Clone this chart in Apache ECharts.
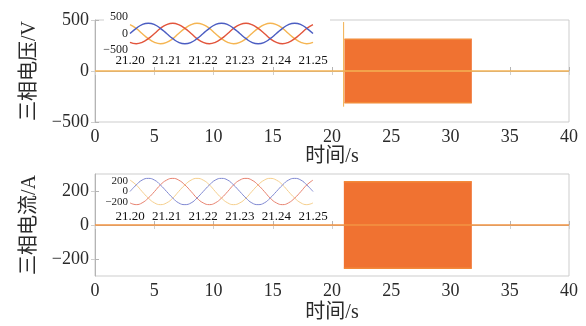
<!DOCTYPE html>
<html>
<head>
<meta charset="utf-8">
<script src="https://cdn.jsdelivr.net/npm/echarts@6/dist/echarts.min.js"></script>
<style>
html, body {margin: 0; background: #fff;}
#chart {width: 586px; height: 326px;}
</style>
</head>
<body>
<div id="chart"></div>
<script>
// main time axis, s
const baseT = [0, 40];
const baseV = [0, 0];

// voltage: transient spike then the fault block
const spikeT = [20.98, 20.98];
const spikeV = [480, -350];
const voltEnvT = [21.05, 31.8];
const voltEnvHi = [311, 311];
const voltEnvLo = [-311, -311];

// current block
const curEnvT = [21.0, 31.8];
const curEnvHi = [255, 255];
const curEnvLo = [-255, -255];

// inset samples, 21.20 .. 21.25 s
const insetT = [21.2000, 21.2017, 21.2033, 21.2050, 21.2067, 21.2083, 21.2100, 21.2117,
    21.2133, 21.2150, 21.2167, 21.2183, 21.2200, 21.2217, 21.2233, 21.2250, 21.2267,
    21.2283, 21.2300, 21.2317, 21.2333, 21.2350, 21.2367, 21.2383, 21.2400, 21.2417,
    21.2433, 21.2450, 21.2467, 21.2483, 21.2500];
const voltA = [0, 156, 269, 311, 269, 156, 0, -156, -269, -311, -269, -156,
    0, 156, 269, 311, 269, 156, 0, -156, -269, -311, -269, -156,
    0, 156, 269, 311, 269, 156, 0];
const voltB = [-269, -311, -269, -156, 0, 156, 269, 311, 269, 156, 0, -156,
    -269, -311, -269, -156, 0, 156, 269, 311, 269, 156, 0, -156,
    -269, -311, -269, -156, 0, 156, 269];
const voltC = [269, 156, 0, -156, -269, -311, -269, -156, 0, 156, 269, 311,
    269, 156, 0, -156, -269, -311, -269, -156, 0, 156, 269, 311,
    269, 156, 0, -156, -269, -311, -269];
const curA = [0, 125, 217, 250, 217, 125, 0, -125, -217, -250, -217, -125,
    0, 125, 217, 250, 217, 125, 0, -125, -217, -250, -217, -125,
    0, 125, 217, 250, 217, 125, 0];
const curB = [-217, -250, -217, -125, 0, 125, 217, 250, 217, 125, 0, -125,
    -217, -250, -217, -125, 0, 125, 217, 250, 217, 125, 0, -125,
    -217, -250, -217, -125, 0, 125, 217];
const curC = [217, 125, 0, -125, -217, -250, -217, -125, 0, 125, 217, 250,
    217, 125, 0, -125, -217, -250, -217, -125, 0, 125, 217, 250,
    217, 125, 0, -125, -217, -250, -217];

const serif = "'Liberation Serif', 'Times New Roman', serif";
const nameFont = "'Liberation Serif', 'Noto Sans CJK SC', sans-serif";
const minus = v => String(v).replace('-', '\u2212');
const zip = (xs, ys) => xs.map((x, i) => [x, ys[i]]);

const frameColor = '#b4b4b4';
const blockFill = '#F07231';
const blockEdge = '#F28A3A';

function mainX(grid, gap) {
    return {
        gridIndex: grid, type: 'value', min: 0, max: 40, interval: 5,
        axisLine: {lineStyle: {color: frameColor}},
        axisTick: {inside: true, length: 4, lineStyle: {color: frameColor}},
        axisLabel: {fontFamily: serif, fontSize: 18, color: '#2a2a2a', margin: 6},
        splitLine: {show: false},
        name: '时间/s', nameLocation: 'middle', nameGap: gap,
        nameTextStyle: {fontFamily: nameFont, fontSize: 20, color: '#2a2a2a'},
    };
}
function mirrorX(grid) {
    return {
        gridIndex: grid, type: 'value', position: 'top', min: 0, max: 40, interval: 5,
        axisLine: {show: false},
        axisTick: {inside: true, length: 4, lineStyle: {color: '#cfcfcf'}},
        axisLabel: {show: false}, splitLine: {show: false},
    };
}
function mirrorY(grid, min, max, ticks) {
    return {
        gridIndex: grid, type: 'value', position: 'right', min, max,
        axisLine: {show: false},
        axisTick: {inside: true, length: 4, customValues: ticks, lineStyle: {color: '#cfcfcf'}},
        axisLabel: {show: false}, splitLine: {show: false},
    };
}
function insetX(grid, margin) {
    return {
        gridIndex: grid, type: 'value', min: 21.20, max: 21.25, interval: 0.01, z: 3,
        axisLine: {show: false}, axisTick: {show: false}, splitLine: {show: false},
        axisLabel: {fontFamily: serif, fontSize: 13, color: '#111', margin,
            formatter: v => v.toFixed(2)},
    };
}
// inset y axis spans only the labelled range; the waves may run past it
function insetY(grid, lim, size, interval, fmt) {
    return {
        gridIndex: grid, type: 'value', position: 'left', min: -lim, max: lim, interval, z: 3,
        axisLine: {show: false}, axisTick: {show: false}, splitLine: {show: false},
        axisLabel: {fontFamily: serif, fontSize: size, lineHeight: size - 2, color: '#1e1e1e',
            margin: 2, formatter: fmt || minus},
    };
}
function line(xi, yi, data, color, width, extra) {
    return Object.assign({
        type: 'line', xAxisIndex: xi, yAxisIndex: yi, data, showSymbol: false,
        animation: false, silent: true, clip: false, lineStyle: {color, width},
    }, extra || {});
}
function block(xi, yi, data) {
    return line(xi, yi, data, blockEdge, 1.5, {
        areaStyle: {color: blockFill, opacity: 1},
    });
}

const chart = echarts.init(document.getElementById('chart'));
chart.setOption({
    backgroundColor: '#fff',
    animation: false,
    grid: [
        {left: 95, top: 20, width: 474, height: 102, show: true, borderColor: '#cdcdcd', borderWidth: 1},
        {left: 95, top: 174, width: 474, height: 102, show: true, borderColor: '#cdcdcd', borderWidth: 1},
        {left: 130, top: 17, width: 183, height: 33},
        {left: 130, top: 181, width: 183, height: 21},
    ],
    graphic: [{
        type: 'rect', z: 1,
        shape: {x: 104, y: 8, width: 226, height: 58},
        style: {fill: '#fff'},
    }],
    xAxis: [
        mainX(0, 25), mirrorX(0),
        mainX(1, 27), mirrorX(1),
        insetX(2, 4), insetX(3, 8),
    ],
    yAxis: [
        {
            gridIndex: 0, type: 'value', min: -500, max: 500, interval: 500,
            axisLine: {lineStyle: {color: frameColor}},
            axisTick: {inside: true, length: 4, lineStyle: {color: frameColor}},
            axisLabel: {fontFamily: serif, fontSize: 18, color: '#2a2a2a', margin: 6, formatter: minus},
            splitLine: {show: false},
            name: '三相电压/V', nameLocation: 'middle', nameGap: 55,
            nameTextStyle: {fontFamily: nameFont, fontSize: 20, color: '#2a2a2a'},
        },
        mirrorY(0, -500, 500, [-500, 0, 500]),
        {
            gridIndex: 1, type: 'value', min: -300, max: 300,
            axisLine: {lineStyle: {color: frameColor}},
            axisTick: {inside: true, length: 4, customValues: [-200, 0, 200], lineStyle: {color: frameColor}},
            axisLabel: {fontFamily: serif, fontSize: 18, color: '#2a2a2a', margin: 6,
                customValues: [-200, 0, 200], formatter: minus},
            splitLine: {show: false},
            name: '三相电流/A', nameLocation: 'middle', nameGap: 55,
            nameTextStyle: {fontFamily: nameFont, fontSize: 20, color: '#2a2a2a'},
        },
        mirrorY(1, -300, 300, [-200, 0, 200]),
        insetY(2, 500, 12, 500),
        // current inset: ±200 on one axis, 0 on a second one so they don't collide
        insetY(3, 200, 11, 400),
        insetY(3, 200, 11, 200, v => (v === 0 ? '0' : '')),
    ],
    series: [
        // voltage panel
        line(0, 0, zip(baseT, baseV), '#F4B354', 1.5, {clip: true}),
        line(0, 0, zip(spikeT, spikeV), '#F2B04E', 1, {clip: true}),
        block(0, 0, zip(voltEnvT, voltEnvHi)),
        block(0, 0, zip(voltEnvT, voltEnvLo)),
        // current panel
        line(2, 2, zip(baseT, baseV), '#F39443', 1.5, {clip: true}),
        block(2, 2, zip(curEnvT, curEnvHi)),
        block(2, 2, zip(curEnvT, curEnvLo)),
        // voltage inset
        line(4, 4, zip(insetT, voltC), '#F5B552', 1.4, {smooth: true, z: 4}),
        line(4, 4, zip(insetT, voltB), '#E2553C', 1.4, {smooth: true, z: 4}),
        line(4, 4, zip(insetT, voltA), '#4B5DC2', 1.4, {smooth: true, z: 4}),
        // current inset
        line(5, 5, zip(insetT, curC), '#F6CF8C', 1, {smooth: true, z: 4}),
        line(5, 5, zip(insetT, curB), '#E8826F', 1, {smooth: true, z: 4}),
        line(5, 5, zip(insetT, curA), '#7F88D2', 1, {smooth: true, z: 4}),
    ],
});
</script>
</body>
</html>
